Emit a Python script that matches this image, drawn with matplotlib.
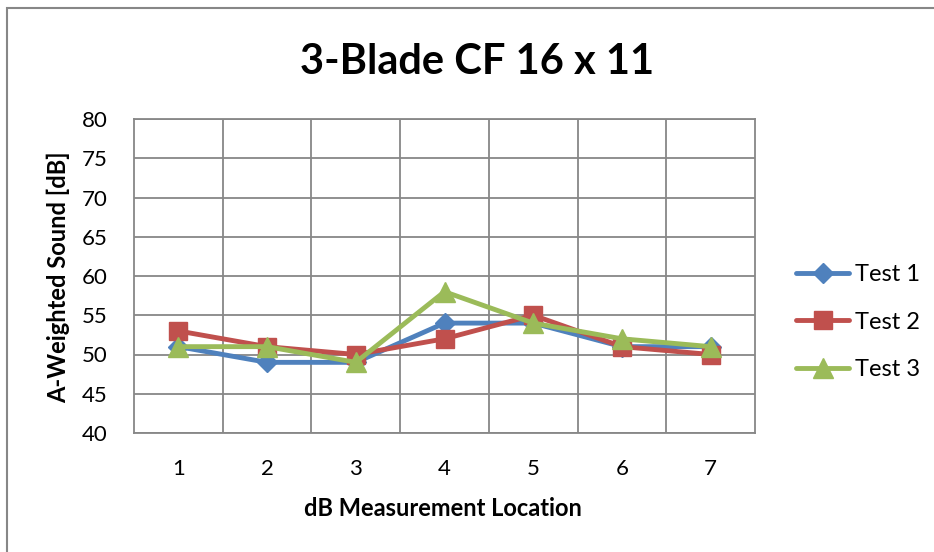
import matplotlib
matplotlib.use("Agg")
import matplotlib.pyplot as plt
from matplotlib.patches import Rectangle

locations = [1, 2, 3, 4, 5, 6, 7]
test1 = [51, 49, 49, 54, 54, 51, 51]
test2 = [53, 51, 50, 52, 55, 51, 50]
test3 = [51, 51, 49, 58, 54, 52, 51]
series_names = ["Test 1", "Test 2", "Test 3"]
yticks = [40, 45, 50, 55, 60, 65, 70, 75, 80]

plt.rcParams['font.family'] = ['Lato', 'DejaVu Sans']

W, H = 934, 552
fig = plt.figure(figsize=(W/100, H/100), dpi=100)
ax = fig.add_axes([134/W, 1-433/H, (755-134)/W, (433-119)/H])

colors = ["#4F81BD", "#C0504D", "#9BBB59"]
markers = ["D", "s", "^"]
msizes = [10, 13, 14]
for vals, c, m, ms, name in zip([test1, test2, test3], colors, markers, msizes, series_names):
    ax.plot(locations, vals, color=c, lw=3.5, marker=m, ms=ms, label=name,
            solid_joinstyle='round', solid_capstyle='round', zorder=3)

ax.set_xlim(0.5, 7.5)
ax.set_ylim(40, 80)
ax.set_yticks(yticks)
ax.set_xticks(locations)
ax.set_xticks([1.5 + i for i in range(6)], minor=True)
ax.grid(True, which='major', axis='y', color='#878787', lw=1.3)
ax.grid(True, which='minor', axis='x', color='#878787', lw=1.3)
ax.tick_params(which='both', length=0, labelsize=16, colors='black')
ax.tick_params(axis='y', pad=19)
ax.tick_params(axis='x', pad=19)
for s in ax.spines.values():
    s.set_color('#878787')
    s.set_linewidth(1.3)

fig.text(443/W, 1-508/H, "dB Measurement Location", ha='center', va='center',
         fontsize=17, fontweight='bold')
fig.text(58/W, 1-277/H, "A-Weighted Sound [dB]", ha='center', va='center',
         rotation=90, fontsize=17, fontweight='bold')

fig.text(477/W, 1-62/H, "3-Blade CF 16 x 11", ha='center', va='center',
         fontsize=30, fontweight='bold')

leg = fig.legend(loc='center left', bbox_to_anchor=(775/W, 1-322/H), frameon=False,
                 fontsize=17, handlelength=2.25, labelspacing=1.12, handletextpad=0.25)

fig.patches.append(Rectangle((7/W, -0.1), 2, 1.1 - 8/H, transform=fig.transFigure,
                             fill=False, edgecolor='#878787', lw=1.5))

fig.savefig("out.png", dpi=100, facecolor='white')
